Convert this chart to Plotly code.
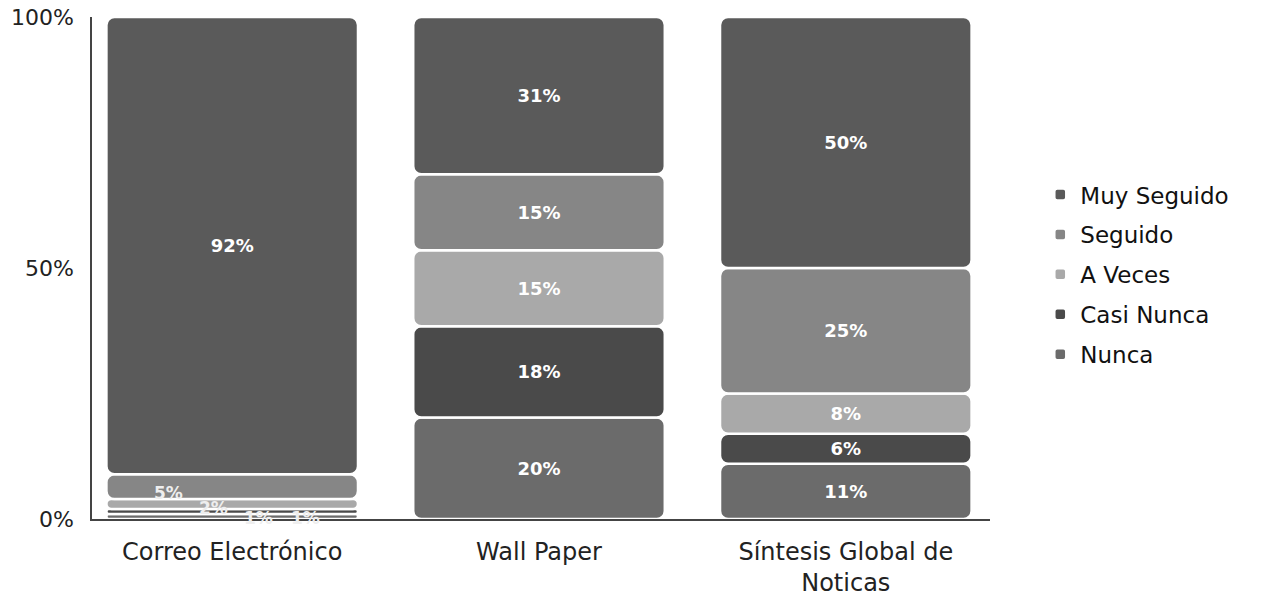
import plotly.graph_objects as go

categories = ["Correo Electrónico", "Wall Paper", "Síntesis Global de<br>Noticas"]
series_names = ["Nunca", "Casi Nunca", "A Veces", "Seguido", "Muy Seguido"]
nunca = [1, 20, 11]
casi_nunca = [1, 18, 6]
a_veces = [2, 15, 8]
seguido = [5, 15, 25]
muy_seguido = [92, 31, 50]
colors = ["#6b6b6b", "#4a4a4a", "#a9a9a9", "#868686", "#5a5a5a"]

values = [nunca, casi_nunca, a_veces, seguido, muy_seguido]
totals = [sum(v[i] for v in values) for i in range(len(categories))]

fig = go.Figure()
bases = [0.0] * len(categories)
small_labels = []
for k, (name, vals, col) in enumerate(zip(series_names, values, colors)):
    pct = [v / t * 100 for v, t in zip(vals, totals)]
    texts = []
    for i, v in enumerate(vals):
        if pct[i] >= 6:
            texts.append(f"<b>{v}%</b>")
        else:
            texts.append("")
            small_labels.append((i, bases[i] + pct[i] / 2, f"<b>{v}%</b>"))
    fig.add_trace(go.Bar(
        x=categories, y=pct, base=list(bases), name=name,
        marker=dict(color=col, line=dict(color="white", width=2.5), cornerradius=8),
        text=texts, textposition="inside", insidetextanchor="middle",
        textfont=dict(color="white", size=18, family="DejaVu Sans"),
        legendgroup=name, legendrank=len(series_names) - k,
    ))
    bases = [b + p for b, p in zip(bases, pct)]

# staggered labels for the thin segments
xshifts = [-64, -19, 26, 73]
yshifts = [-6, -4, -6, -1]
for k, (i, yv, txt) in enumerate(sorted(small_labels, key=lambda s: -s[1])):
    fig.add_annotation(x=categories[i], y=yv, text=txt, showarrow=False,
                       xshift=xshifts[k], yshift=yshifts[k],
                       font=dict(color="#eeeeee", size=17, family="DejaVu Sans"))

fig.update_layout(
    barmode="overlay",
    bargap=0.18,
    width=1264, height=597,
    margin=dict(l=92, r=274, t=17, b=78),
    plot_bgcolor="white", paper_bgcolor="white",
    font=dict(family="DejaVu Sans", size=19, color="#222222"),
    legend=dict(x=1.056, y=0.689, xanchor="left", yanchor="top",
                traceorder="grouped", tracegroupgap=7,
                font=dict(size=23, color="#111111"), itemwidth=30),
    showlegend=True,
)
fig.update_xaxes(range=[-0.457, 2.47], showline=True, linecolor="#444444", linewidth=1.5,
                 ticks="", showgrid=False, tickfont=dict(size=24), ticklabelstandoff=10,
                 automargin=False)
fig.update_yaxes(range=[0, 100], tickvals=[0, 50, 100], ticktext=["0%", "50%", "100%"],
                 showline=True, linecolor="#444444", linewidth=1.5, showgrid=False,
                 zeroline=False, ticks="", tickfont=dict(size=22), ticklabelstandoff=12,
                 automargin=False)

fig.write_html("out.html")
